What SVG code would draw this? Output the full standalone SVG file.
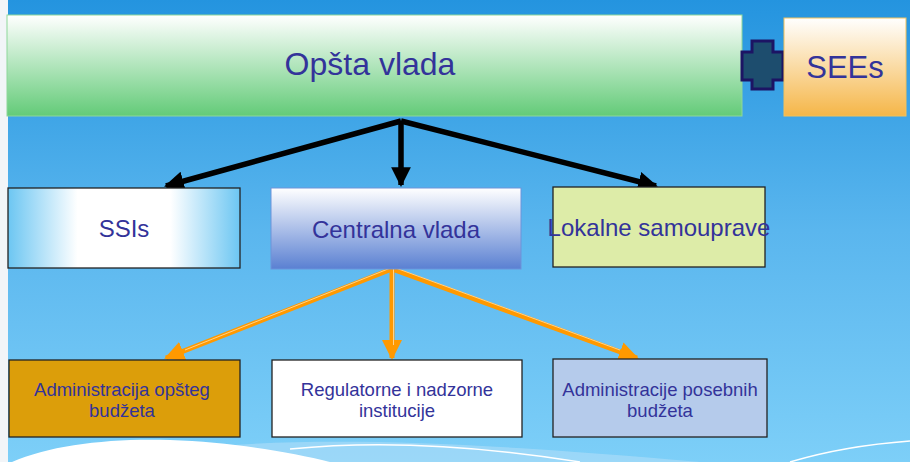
<svg xmlns="http://www.w3.org/2000/svg" width="910" height="462" viewBox="0 0 910 462">
<defs>
<linearGradient id="bg" x1="0" y1="0" x2="0" y2="1"><stop offset="0" stop-color="#2494df"/><stop offset="0.5" stop-color="#5ab6ee"/><stop offset="1" stop-color="#7dcff8"/></linearGradient>
<linearGradient id="gGreen" x1="0" y1="0" x2="0" y2="1"><stop offset="0" stop-color="#ffffff"/><stop offset="1" stop-color="#63cb78"/></linearGradient>
<linearGradient id="gOrange" x1="0" y1="0" x2="0" y2="1"><stop offset="0" stop-color="#ffffff"/><stop offset="1" stop-color="#f5b648"/></linearGradient>
<linearGradient id="gBlueV" x1="0" y1="0" x2="0" y2="1"><stop offset="0" stop-color="#ffffff"/><stop offset="1" stop-color="#5a80d2"/></linearGradient>
<linearGradient id="gSky" x1="0" y1="0" x2="1" y2="0"><stop offset="0" stop-color="#6cc6f2"/><stop offset="0.3" stop-color="#ffffff"/><stop offset="0.7" stop-color="#ffffff"/><stop offset="1" stop-color="#6cc6f2"/></linearGradient>
<marker id="ab" viewBox="0 0 10 10" refX="9" refY="5" markerWidth="3.6" markerHeight="3.6" orient="auto" markerUnits="strokeWidth"><path d="M0,0 L10,5 L0,10 z" fill="#000"/></marker>
<marker id="ao" viewBox="0 0 10 10" refX="9" refY="5" markerWidth="4" markerHeight="4" orient="auto" markerUnits="strokeWidth"><path d="M0,0 L10,5 L0,10 z" fill="#ff9900"/></marker>
</defs>
<style>
text{font-family:"Liberation Sans",Arial,sans-serif;fill:#33339a;text-anchor:middle}
.big{font-size:32px}
.mid{font-size:24px}
.sm{font-size:18.5px}
.blk{stroke:#000;stroke-width:5.5;fill:none;marker-end:url(#ab)}
.org{stroke:#ff9900;stroke-width:5;fill:none;marker-end:url(#ao)}
.orgl{stroke:#ffd28a;stroke-width:1;fill:none}
.box{stroke:#222;stroke-width:1.3}
</style>
<rect width="910" height="462" fill="url(#bg)"/>
<rect x="0" y="0" width="8" height="462" fill="#f2f5f8"/>
<g id="swoosh">
<path d="M150,452 C300,435 450,440 700,462 L330,462 C260,450 200,448 150,452 Z" fill="#a8dcf8" opacity="0.7"/>
<path d="M12,462 C50,445 110,438 170,440 C230,442 290,452 330,462 Z" fill="#ffffff"/>
<path d="M290,449 C380,440 480,446 580,462" fill="none" stroke="#ffffff" stroke-width="1.5"/>
<path d="M790,462 C830,450 870,444 910,441" fill="none" stroke="#ffffff" stroke-width="1.5"/>
</g>
<g id="connectors">
<path class="blk" d="M401,121 L166,186"/>
<path class="blk" d="M401,121 L401,185"/>
<path class="blk" d="M401,121 L656,186"/>
<path class="org" d="M392,269 L166,358"/>
<path class="org" d="M392,269 L392,358"/>
<path class="org" d="M392,269 L637,358"/>
<path class="orgl" d="M393,267 L185,350"/>
<path class="orgl" d="M393.5,269 L393.5,345"/>
<path class="orgl" d="M393,267 L620,350"/>
</g>
<g id="opsta">
<rect x="7" y="15" width="735" height="101" fill="url(#gGreen)" stroke="#8ed89a" stroke-width="1"/>
<text class="big" x="370" y="75">Opšta vlada</text>
</g>
<g id="plus">
<path d="M752,41 H773 V52 H783 V80 H773 V89 H752 V80 H742 V52 H752 Z" fill="#1d4d6e" stroke="#1c1464" stroke-width="3"/>
</g>
<g id="sees">
<rect x="784" y="18" width="122" height="98" fill="url(#gOrange)" stroke="#f2c25c" stroke-width="1"/>
<text class="big" x="845" y="78" style="font-size:31px">SEEs</text>
</g>
<g id="ssis">
<rect class="box" x="8" y="188" width="232" height="80" fill="url(#gSky)"/>
<text class="mid" x="124" y="237">SSIs</text>
</g>
<g id="centralna">
<rect x="271" y="188" width="250" height="81" fill="url(#gBlueV)" stroke="#6d93da" stroke-width="1"/>
<text class="mid" x="396" y="238">Centralna vlada</text>
</g>
<g id="lokalne">
<rect class="box" x="553" y="187" width="212" height="80" fill="#ddeca8"/>
<text class="mid" x="659" y="236">Lokalne samouprave</text>
</g>
<g id="admin-opsteg">
<rect class="box" x="9" y="360" width="231" height="77" fill="#dc9e0a"/>
<text class="sm" x="122" y="396">Administracija opšteg</text>
<text class="sm" x="122" y="417">budžeta</text>
</g>
<g id="regulatorne">
<rect class="box" x="272" y="360" width="250" height="77" fill="#ffffff"/>
<text class="sm" x="397" y="396">Regulatorne i nadzorne</text>
<text class="sm" x="397" y="417">institucije</text>
</g>
<g id="admin-posebnih">
<rect class="box" x="553" y="359" width="214" height="78" fill="#b5cbeb"/>
<text class="sm" x="660" y="396">Administracije posebnih</text>
<text class="sm" x="660" y="417">budžeta</text>
</g>
</svg>
